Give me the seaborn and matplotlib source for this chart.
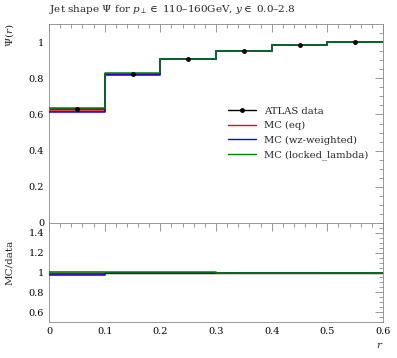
import numpy as np
import pandas as pd
import matplotlib
matplotlib.use("Agg")
import matplotlib.pyplot as plt
import seaborn as sns

edges = [0.0, 0.1, 0.2, 0.3, 0.4, 0.5, 0.6]
data_vals = [0.630, 0.826, 0.908, 0.952, 0.985, 1.0]
data_err = [0.012, 0.004, 0.003, 0.002, 0.001, 0.0]
mc_eq = [0.620, 0.822, 0.906, 0.951, 0.985, 1.0]
mc_wz = [0.612, 0.820, 0.905, 0.951, 0.985, 1.0]
mc_ll = [0.636, 0.827, 0.909, 0.952, 0.985, 1.0]
series_names = ["MC (eq)", "MC (wz-weighted)", "MC (locked_lambda)"]
series_colors = ["#ff0000", "#0000ff", "#008000"]

sns.set_theme(style="white")
plt.rcParams['font.family'] = ['DejaVu Serif']
plt.rcParams['mathtext.fontset'] = 'dejavuserif'

fig = plt.figure(figsize=(3.97, 3.58), dpi=100)
L, R = 49/397, 383/397
ax = fig.add_axes([L, 1-223/358, R-L, (223-24)/358])
axr = fig.add_axes([L, 1-322/358, R-L, (322-223)/358], sharex=ax)

centers = [(edges[i]+edges[i+1])/2 for i in range(len(data_vals))]

rows = []
for name, vals in zip(series_names, [mc_eq, mc_wz, mc_ll]):
    ys = list(vals) + [vals[-1]]
    ratio = [v/d for v, d in zip(vals, data_vals)]
    rs = ratio + [ratio[-1]]
    for x, y, r in zip(edges, ys, rs):
        rows.append({"r": x, "val": y, "ratio": r, "series": name})
df = pd.DataFrame(rows)
pal = dict(zip(series_names, series_colors))

# data band in ratio
band_lo = [1 - e/d for e, d in zip(data_err, data_vals)]
band_hi = [1 + e/d for e, d in zip(data_err, data_vals)]
axr.fill_between(edges, band_lo + [band_lo[-1]], band_hi + [band_hi[-1]],
                 step='post', color='#ffee00', lw=0, zorder=1)
axr.step(edges, [1]*len(edges), where='post', color='black', lw=1, zorder=2)

sns.lineplot(data=df, x="r", y="val", hue="series", palette=pal, ax=ax,
             drawstyle="steps-post", lw=1.1, legend=False, zorder=3)
sns.lineplot(data=df, x="r", y="ratio", hue="series", palette=pal, ax=axr,
             drawstyle="steps-post", lw=1.1, legend=False, zorder=3)

ax.step(edges, list(data_vals) + [data_vals[-1]], where='post', color='black', lw=1.1, zorder=2)
ax.errorbar(centers, data_vals, yerr=data_err, fmt='o', ms=2.5, color='black', lw=1, zorder=5)

ax.set_xlim(0, 0.6)
ax.set_ylim(0, 1.1)
axr.set_ylim(0.5, 1.5)
ax.set_xlabel("")
ax.set_ylabel("")
axr.set_xlabel("")
axr.set_ylabel("")

for a in (ax, axr):
    a.minorticks_on()
    a.tick_params(which='both', direction='in', top=True, right=True, colors='#888888',
                  labelcolor='black', labelsize=7)
    a.tick_params(which='major', length=6, width=0.6)
    a.tick_params(which='minor', length=3, width=0.6)
    for s in a.spines.values():
        s.set_color('#888888')
        s.set_linewidth(0.6)

ax.set_xticks([0, 0.1, 0.2, 0.3, 0.4, 0.5, 0.6])
ax.set_xticks(np.arange(0, 0.601, 0.02), minor=True)
ax.set_yticks([0, 0.2, 0.4, 0.6, 0.8, 1.0])
ax.set_yticklabels(["0", "0.2", "0.4", "0.6", "0.8", "1"])
ax.set_yticks(np.arange(0, 1.1, 0.05), minor=True)
plt.setp(ax.get_xticklabels(), visible=False)
axr.set_yticks([0.6, 0.8, 1.0, 1.2, 1.4])
axr.set_yticklabels(["0.6", "0.8", "1", "1.2", "1.4"])
axr.set_yticks(np.arange(0.5, 1.51, 0.05), minor=True)
axr.set_xticklabels(["0", "0.1", "0.2", "0.3", "0.4", "0.5", "0.6"])

fig.text(L, 1-10/358, r"Jet shape $\Psi$ for $p_\perp \in$ 110–160GeV, $y \in$ 0.0–2.8",
         fontsize=7.5, ha='left', va='center')
fig.text(10/397, 1-24/358, r"$\Psi(r)$", rotation=90, fontsize=7.5, ha='center', va='top')
fig.text(10/397, 1-262/358, "MC/data", rotation=90, fontsize=7.5, ha='center', va='center')
fig.text(R, 1-346/358, r"$r$", fontsize=7.5, ha='right', va='center')

from matplotlib.lines import Line2D
handles = [Line2D([], [], color='black', marker='o', ms=2.5, lw=1)] + \
          [Line2D([], [], color=c, lw=1) for c in series_colors]
labels = ["ATLAS data"] + series_names
ax.legend(handles, labels, loc='upper left', bbox_to_anchor=(0.525, 0.605), frameon=False,
          fontsize=7.2, handlelength=2.8, labelspacing=0.55, borderaxespad=0)

fig.savefig("out.png", dpi=100)
